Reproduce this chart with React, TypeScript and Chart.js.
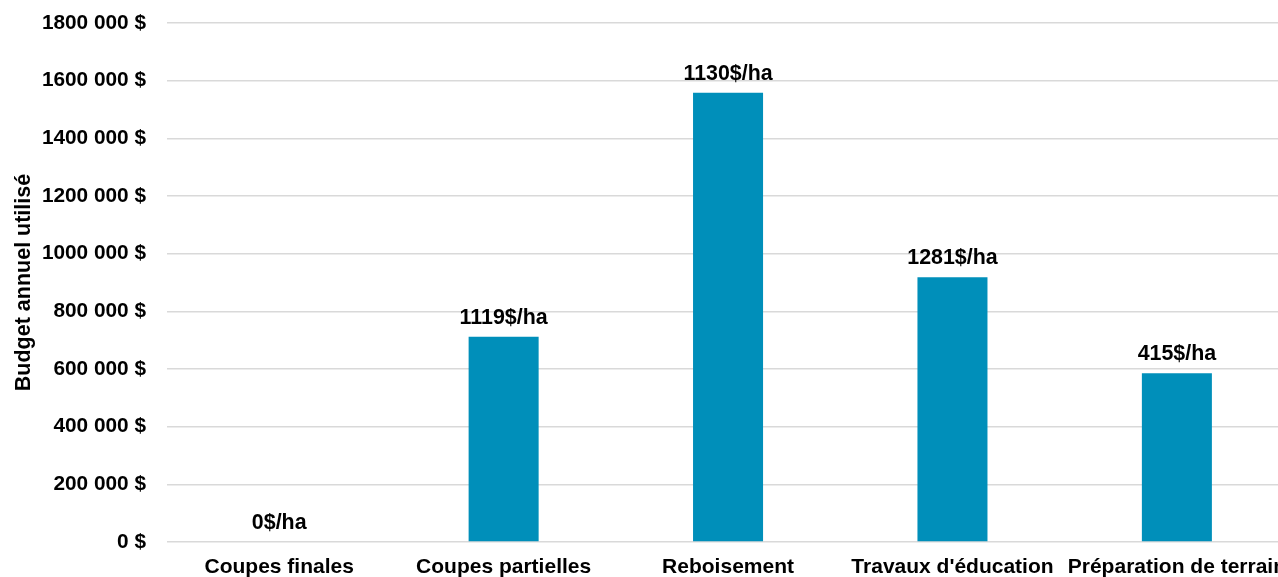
import React, { useEffect, useRef } from "react";
import { Chart, registerables } from "chart.js";

Chart.register(...registerables);

const categories = [
  "Coupes finales",
  "Coupes partielles",
  "Reboisement",
  "Travaux d'éducation",
  "Préparation de terrain",
];
const budgetValues = [0, 712000, 1558000, 918000, 585000];
const rateLabels = ["0$/ha", "1119$/ha", "1130$/ha", "1281$/ha", "415$/ha"];

const FONT = "'Liberation Sans', Arial, sans-serif";

const formatMoney = (v: number) => {
  const n = Math.round(v);
  if (n === 0) return "0 $";
  const thousands = Math.floor(n / 1000);
  const rest = String(n % 1000).padStart(3, "0");
  return `${thousands} ${rest} $`;
};

const barLabelPlugin = {
  id: "barLabels",
  afterDatasetsDraw(chart: any) {
    const ctx = chart.ctx;
    const meta = chart.getDatasetMeta(0);
    ctx.save();
    ctx.font = `bold 21.4px ${FONT}`;
    ctx.fillStyle = "#000";
    ctx.textAlign = "center";
    ctx.textBaseline = "alphabetic";
    meta.data.forEach((bar: any, i: number) => {
      ctx.fillText(rateLabels[i], bar.x, bar.y - 13);
    });
    ctx.restore();
  },
};

export default function App() {
  const ref = useRef<HTMLCanvasElement | null>(null);

  useEffect(() => {
    document.documentElement.style.overflow = "hidden";
    document.body.style.overflow = "hidden";
    const chart = new Chart(ref.current as HTMLCanvasElement, {
      type: "bar",
      data: {
        labels: categories,
        datasets: [
          {
            data: budgetValues,
            backgroundColor: "#008FBA",
            borderWidth: 0,
            categoryPercentage: 1,
            barPercentage: 0.312,
          },
        ],
      },
      options: {
        animation: false,
        responsive: false,
        maintainAspectRatio: false,
        layout: { padding: { top: 23, right: 10, left: 0, bottom: 0 } },
        plugins: {
          legend: { display: false },
          tooltip: { enabled: false },
        },
        scales: {
          x: {
            grid: { display: false, drawTicks: false },
            border: { display: false },
            ticks: {
              color: "#000",
              font: { family: FONT, size: 21, weight: "bold" },
              padding: 13,
              maxRotation: 0,
              autoSkip: false,
            },
            afterFit: (scale: any) => {
              scale.height = 35;
            },
          },
          y: {
            min: 0,
            max: 1800000,
            ticks: {
              stepSize: 200000,
              color: "#000",
              font: { family: FONT, size: 20.8, weight: "bold" },
              padding: 21,
              callback: (v: any) => formatMoney(Number(v)),
            },
            grid: { color: "#d9d9d9", lineWidth: 1.5, drawTicks: false },
            border: { display: false },
            title: {
              display: true,
              text: "Budget annuel utilisé",
              color: "#000",
              font: { family: FONT, size: 21.5, weight: "bold" },
              padding: { top: 11, bottom: 0 },
            },
            afterFit: (scale: any) => {
              scale.width = 167;
              scale.paddingTop = 0;
              scale.paddingBottom = 0;
            },
          },
        },
      },
      plugins: [barLabelPlugin],
    });
    return () => chart.destroy();
  }, []);

  return (
    <div style={{ position: "fixed", left: 0, top: 0, width: 1300, height: 577 }}>
      <canvas ref={ref} width={1300} height={577} style={{ width: 1300, height: 577 }} />
    </div>
  );
}
